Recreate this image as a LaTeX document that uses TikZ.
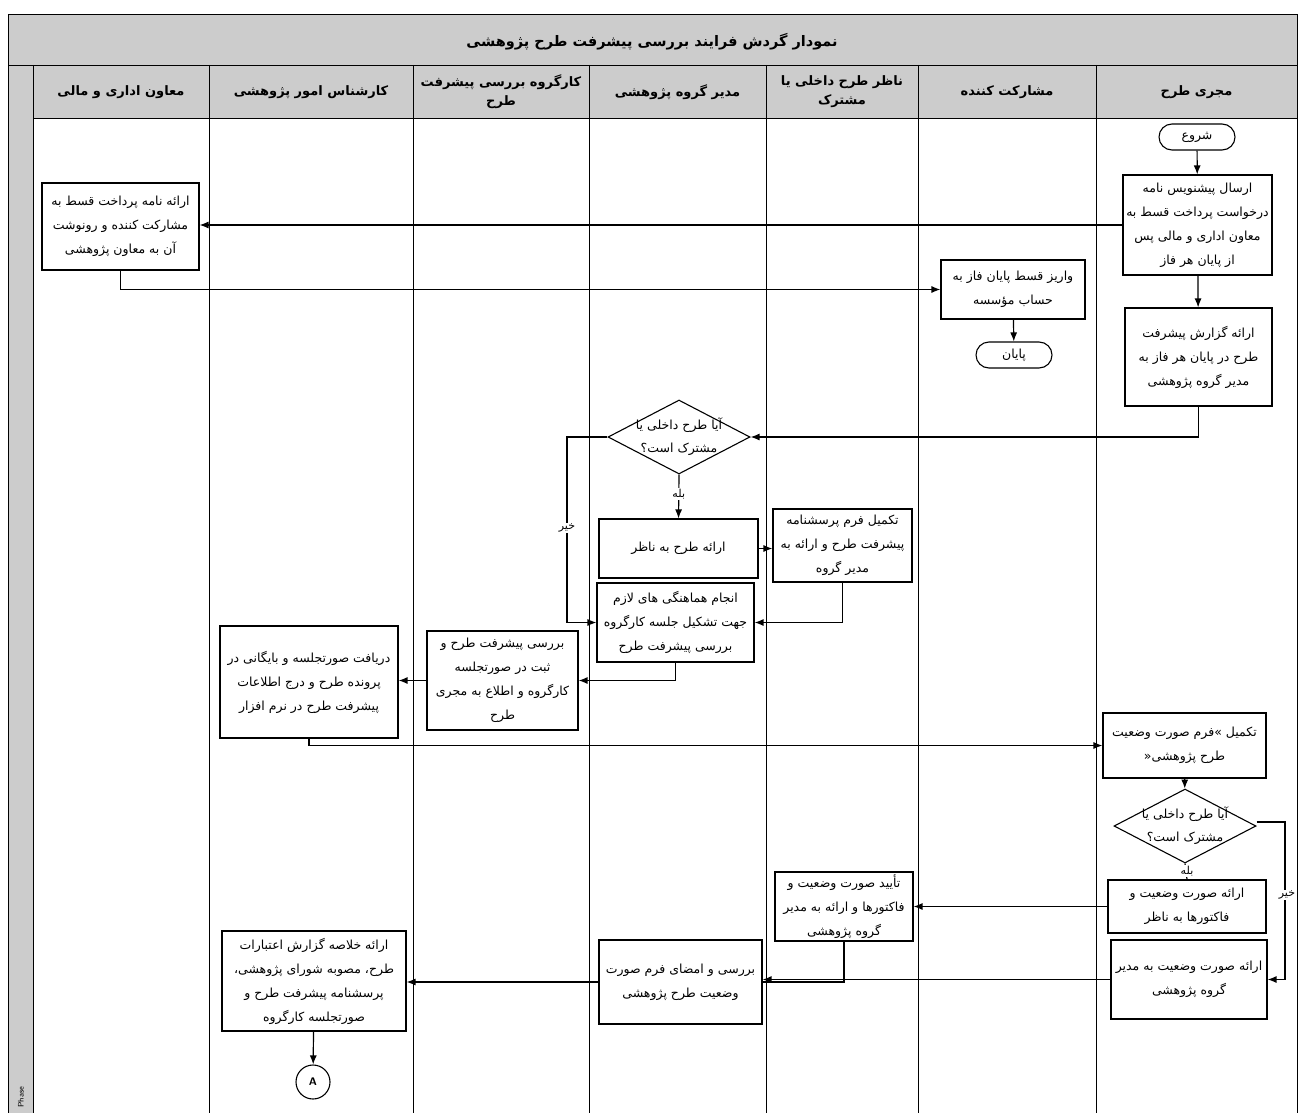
\documentclass[tikz,border=0pt]{standalone}
\usepackage{fontspec}
\usetikzlibrary{shapes.geometric,arrows.meta}
\TeXXeTstate=1
\newfontfamily\fafont[Script=Arabic]{DejaVu Sans}
\newcommand\fl[1]{\beginR #1\endR}
\begin{document}
\begin{tikzpicture}[x=1pt,y=-1pt,
 box/.style={draw, line width=1.1pt, fill=white, inner sep=0pt, align=center, font=\fafont\fontsize{12.5}{24}\selectfont},
 term/.style={box, rounded corners=13pt, minimum width=76pt, minimum height=26pt},
 dia/.style={draw, line width=1.1pt, diamond, inner sep=0pt, minimum width=142pt, minimum height=74pt, fill=white},
 dtxt/.style={align=center, inner sep=0pt, font=\fafont\fontsize{12.5}{23}\selectfont},
 lab/.style={font=\fafont\fontsize{11}{12}\selectfont, inner sep=1pt, fill=white},
 hdr/.style={align=center, font=\fafont\bfseries\fontsize{13}{19}\selectfont},
 conn/.style={line width=1.2pt, -{Latex[length=9pt,width=7pt]}},
 plain/.style={line width=1.2pt},
 lane/.style={line width=0.8pt}
]
\useasboundingbox (0,0) rectangle (1303,1113);
% backgrounds
\fill[black!20] (8,14) rectangle (1297,118);
\fill[black!20] (8,118) rectangle (33,1113);
\draw[lane] (8,1113) -- (8,14) -- (1297,14) -- (1297,1113);
\draw[lane] (8,65) -- (1297,65);
\draw[lane] (33,118) -- (1297,118);
\foreach \x in {33,209,413,589,766,918,1096} \draw[lane] (\x,65) -- (\x,1113);
% title and headers
\node[font=\fafont\bfseries\fontsize{14.5}{17}\selectfont] (title) at (652,42) {\fl{نمودار گردش فرایند بررسی پیشرفت طرح پژوهشی}};
\node[hdr] (h1) at (121,92) {\fl{معاون اداری و مالی}};
\node[hdr] (h2) at (311,92) {\fl{کارشناس امور پژوهشی}};
\node[hdr] (h3) at (501,92) {\fl{کارگروه بررسی پیشرفت}\\\fl{طرح}};
\node[hdr] (h4) at (677.5,92) {\fl{مدیر گروه پژوهشی}};
\node[hdr] (h5) at (842,92) {\fl{ناظر طرح داخلی یا}\\\fl{مشترک}};
\node[hdr] (h6) at (1007,92) {\fl{مشارکت کننده}};
\node[hdr] (h7) at (1196.5,92) {\fl{مجری طرح}};
\node[rotate=90, font=\sffamily\fontsize{8}{9}\selectfont] (phase) at (21,1097) {Phase};
% nodes
\node[term] (start) at (1197,137) {\fl{شروع}};
\node[box, minimum width=149pt, minimum height=100pt] (n1) at (1197.5,225) {\fl{ارسال پیشنویس نامه}\\\fl{درخواست پرداخت قسط به}\\\fl{معاون اداری و مالی پس}\\\fl{از پایان هر فاز}};
\node[box, minimum width=147pt, minimum height=98pt] (n2) at (1198.5,357) {\fl{ارائه گزارش پیشرفت}\\\fl{طرح در پایان هر فاز به}\\\fl{مدیر گروه پژوهشی}};
\node[box, minimum width=157pt, minimum height=87pt] (m1) at (120.5,226.5) {\fl{ارائه نامه پرداخت قسط به}\\\fl{مشارکت کننده و رونوشت}\\\fl{آن به معاون پژوهشی}};
\node[box, minimum width=144pt, minimum height=59pt] (p1) at (1013,289.5) {\fl{واریز قسط پایان فاز به}\\\fl{حساب مؤسسه}};
\node[term] (end) at (1014,355) {\fl{پایان}};
\node[dia] (d1) at (679,437) {};
\node[dtxt] (d1t) at (d1.center) {\fl{آیا طرح داخلی یا}\\\fl{مشترک است؟}};
\node[box, minimum width=159pt, minimum height=59pt] (g1) at (678.5,548.5) {\fl{ارائه طرح به ناظر}};
\node[box, minimum width=139pt, minimum height=73pt] (z1) at (842.5,545.5) {\fl{تکمیل فرم پرسشنامه}\\\fl{پیشرفت طرح و ارائه به}\\\fl{مدیر گروه}};
\node[box, minimum width=157pt, minimum height=79pt] (g2) at (675.5,622.5) {\fl{انجام هماهنگی های لازم}\\\fl{جهت تشکیل جلسه کارگروه}\\\fl{بررسی پیشرفت طرح}};
\node[box, minimum width=151pt, minimum height=99pt] (k1) at (502.5,680.5) {\fl{بررسی پیشرفت طرح و}\\\fl{ثبت در صورتجلسه}\\\fl{کارگروه و اطلاع به مجری}\\\fl{طرح}};
\node[box, minimum width=178pt, minimum height=112pt] (r1) at (309,682) {\fl{دریافت صورتجلسه و بایگانی در}\\\fl{پرونده طرح و درج اطلاعات}\\\fl{پیشرفت طرح در نرم افزار}};
\node[box, minimum width=163pt, minimum height=65pt] (n3) at (1184.5,745.5) {\fl{تکمیل »فرم صورت وضعیت}\\\fl{طرح پژوهشی«}};
\node[dia] (d2) at (1185,826) {};
\node[dtxt] (d2t) at (d2.center) {\fl{آیا طرح داخلی یا}\\\fl{مشترک است؟}};
\node[box, minimum width=158pt, minimum height=53pt] (n4) at (1187,906.5) {\fl{ارائه صورت وضعیت و}\\\fl{فاکتورها به ناظر}};
\node[box, minimum width=156pt, minimum height=79pt] (n5) at (1189,979.5) {\fl{ارائه صورت وضعیت به مدیر}\\\fl{گروه پژوهشی}};
\node[box, minimum width=138pt, minimum height=69pt] (z2) at (844,906.5) {\fl{تأیید صورت وضعیت و}\\\fl{فاکتورها و ارائه به مدیر}\\\fl{گروه پژوهشی}};
\node[box, minimum width=163pt, minimum height=84pt] (g3) at (680.5,982) {\fl{بررسی و امضای فرم صورت}\\\fl{وضعیت طرح پژوهشی}};
\node[box, minimum width=184pt, minimum height=100pt] (r2) at (314,981) {\fl{ارائه خلاصه گزارش اعتبارات}\\\fl{طرح، مصوبه شورای پژوهشی،}\\\fl{پرسشنامه پیشرفت طرح و}\\\fl{صورتجلسه کارگروه}};
\node[draw, circle, line width=1.1pt, minimum size=34pt, inner sep=0pt, font=\sffamily\bfseries\fontsize{11}{12}\selectfont] (A) at (313,1082) {A};
% connectors
\coordinate (no1) at (567,437);
\coordinate (no2) at (1285,822);
\draw[conn] (start) -- (n1);
\draw[conn] (n1) -- (n2);
\draw[conn] (n1.west) -- (n1.west -| m1.east);
\draw[conn] (m1.south) |- (p1.west);
\draw[conn] (p1) -- (end);
\draw[conn] (n2.south) |- (d1.east);
\draw[conn] (d1.south) -- (g1.north) node[lab, pos=0.45] (yes1) {\fl{بله}};
\draw[conn] (g1.east) -- (z1.west |- g1.east);
\draw[conn] (z1.south) |- (g2.east);
\draw[conn] (d1.west) -- (no1) |- (g2.west);
\node[lab] (nol1) at (567,528) {\fl{خیر}};
\draw[conn] (g2.south) |- (k1.east);
\draw[conn] (k1.west) -- (k1.west -| r1.east);
\draw[conn] (r1.south) |- (n3.west);
\draw[conn] (n3) -- (d2);
\draw[plain] (d2.south) -- (n4.north);
\node[lab] (yes2) at (1187,871) {\fl{بله}};
\draw[conn] (d2.east |- no2) -- (no2) |- (n5.east);
\node[lab] (nol2) at (1287,895) {\fl{خیر}};
\draw[conn] (n4.west) -- (z2.east);
\draw[plain] (z2.south) |- (g3.east);
\draw[conn] (n5.west) -- (n5.west -| g3.east);
\draw[conn] (g3.west) -- (g3.west -| r2.east);
\draw[conn] (r2) -- (A);
\end{tikzpicture}
\end{document}
